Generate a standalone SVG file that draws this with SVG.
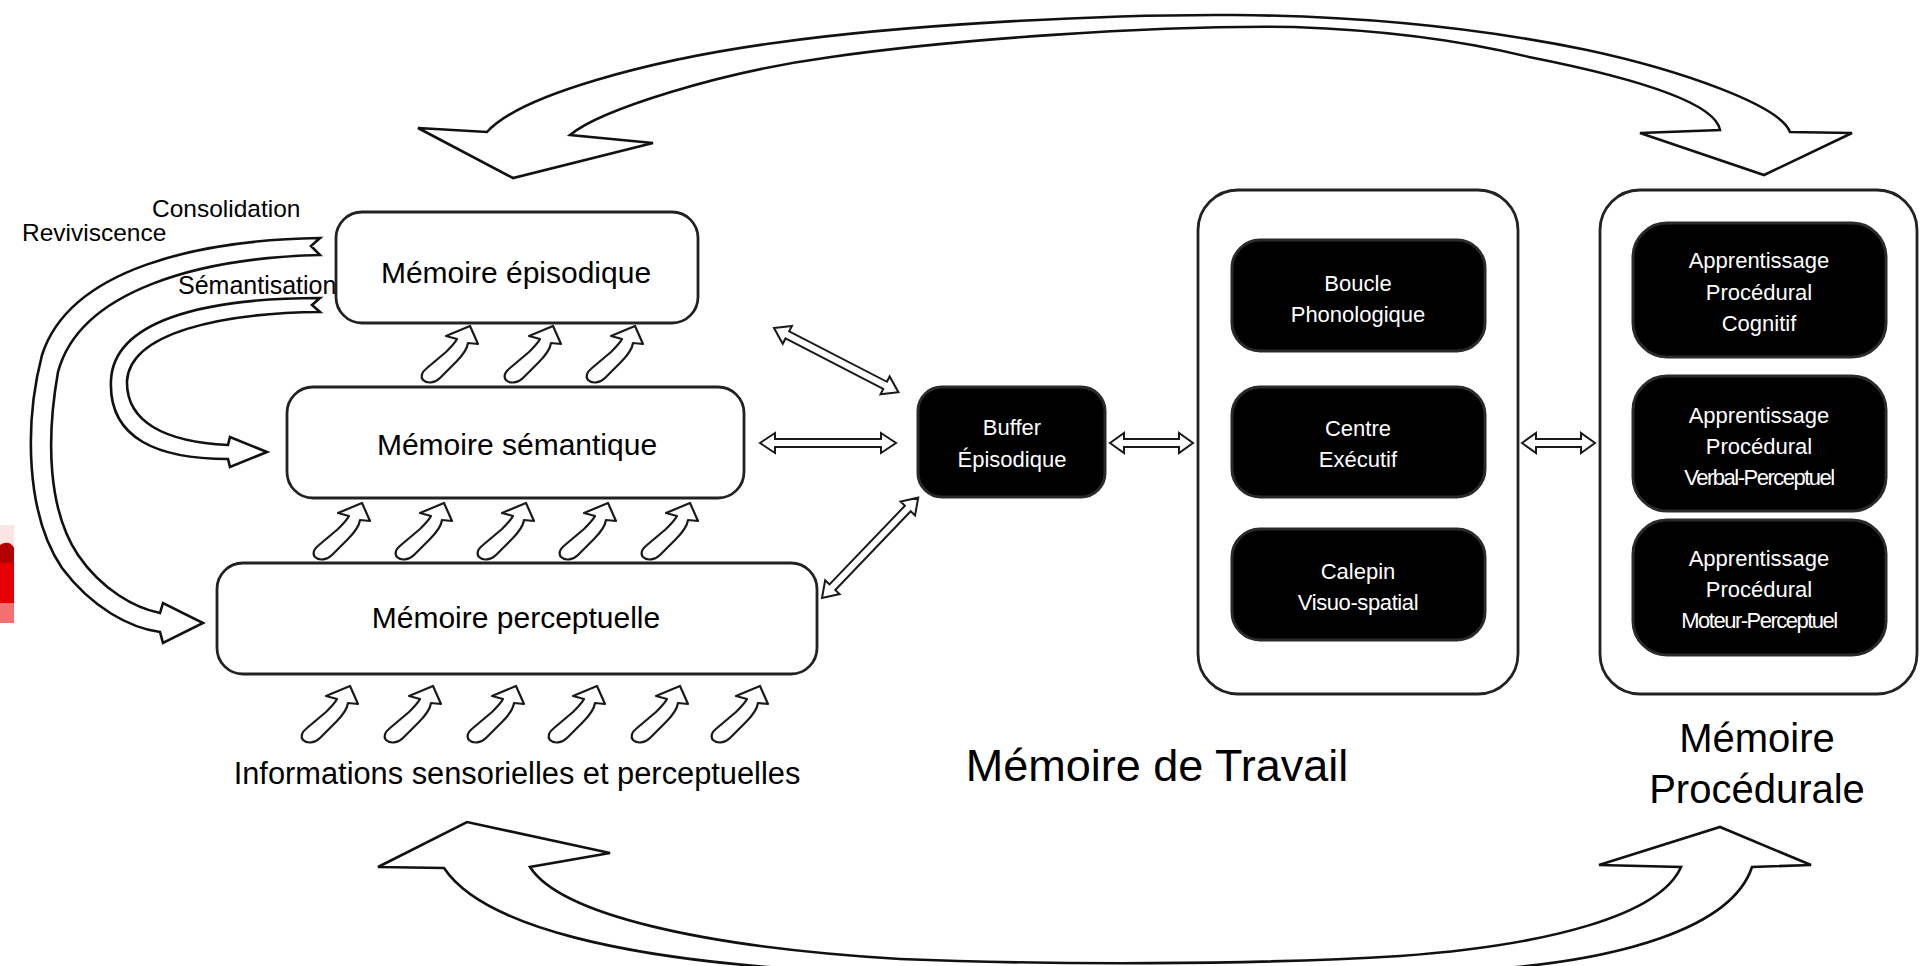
<svg xmlns="http://www.w3.org/2000/svg" width="1921" height="966" viewBox="0 0 1921 966">
<defs>
<style>
.band{fill:#fff;stroke:#111;stroke-width:2.6;stroke-linejoin:miter}
.sm{fill:#fff;stroke:#1a1a1a;stroke-width:2.2;stroke-linejoin:round}
.dbl{fill:#fff;stroke:#1a1a1a;stroke-width:2}
.wbox{fill:#fff;stroke:#222;stroke-width:2.8}
.bbox{fill:#000;stroke:#2a2a2a;stroke-width:3}
.obox{fill:#fff;stroke:#222;stroke-width:2.8}
.t{font-family:"Liberation Sans",Arial,sans-serif;fill:#000}
.w{font-family:"Liberation Sans",Arial,sans-serif;fill:#fff;font-size:22px;text-anchor:middle}
.m{text-anchor:middle}
</style>
<path id="sa" d="M26,10 L50,0 L58,18 L48,17 C47,24 42,30 36,36 L20,52 C15,57 7,58 3,54 C0,50 2,46 7,42 L26,26 C31,21 35,17 37,13 Z"/>
</defs>
<rect width="1921" height="966" fill="#fff"/>

<g id="red-fragment">
<rect x="0" y="525" width="14" height="98" fill="#fbe4e4"/>
<path d="M0,545 C6,541 12,543 14,548 L14,566 L0,566 Z" fill="#b30000"/>
<path d="M0,563 L14,563 L14,603 C8,606 3,605 0,603 Z" fill="#e80000"/>
<path d="M0,603 L14,603 L14,623 L0,623 Z" fill="#f27070"/>
</g>

<g id="connectors">
<!-- top big arrow -->
<path class="band" d="M487,132 C520,95 650,60 774,43 C900,25 1100,14 1235,15 C1360,16 1480,28 1587,50 C1680,70 1780,105 1790,132 L1852,133 L1764,175 L1640,133 L1720,130 C1715,100 1620,75 1529,57 C1460,40 1380,30 1294,27 C1150,25 950,40 831,57 C720,72 600,110 570,135 L653,143 L513,178 L418,128 Z"/>
<!-- bottom big arrow -->
<path class="band" d="M444,868 C482,925 620,962 850,972 C1050,980 1300,980 1480,970 C1620,961 1732,928 1752,867 L1811,865 L1720,827 L1599,865 L1681,867 C1660,915 1550,945 1400,956 C1250,965 1050,965 900,959 C700,947 560,914 530,867 L610,853 L467,822 L378,867 Z"/>
<!-- Reviviscence / Consolidation arrow -->
<path class="band" d="M320,238 C200,240 70,268 42,355 C24,425 26,515 62,568 C92,608 130,628 160,632 L163,643 L203,623 L163,603 L160,613 C135,608 102,590 78,555 C48,510 46,440 58,372 C80,290 200,258 320,255 L311,246 Z"/>
<!-- Sémantisation arrow -->
<path class="band" d="M320,298 C200,298 114,322 111,380 C108,440 160,459 228,459 L230,467 L267,452 L230,437 L228,445 C165,442 126,422 127,381 C130,333 220,313 320,312 L312,305 Z"/>

<!-- small upward arrows: episodic <- semantic -->
<use href="#sa" class="sm" x="420" y="326"/>
<use href="#sa" class="sm" x="503" y="326"/>
<use href="#sa" class="sm" x="585" y="326"/>
<!-- semantic <- perceptual -->
<use href="#sa" class="sm" x="312" y="503"/>
<use href="#sa" class="sm" x="394" y="503"/>
<use href="#sa" class="sm" x="476" y="503"/>
<use href="#sa" class="sm" x="558" y="503"/>
<use href="#sa" class="sm" x="640" y="503"/>
<!-- perceptual <- sensory -->
<use href="#sa" class="sm" x="300" y="686"/>
<use href="#sa" class="sm" x="383" y="686"/>
<use href="#sa" class="sm" x="466" y="686"/>
<use href="#sa" class="sm" x="547" y="686"/>
<use href="#sa" class="sm" x="630" y="686"/>
<use href="#sa" class="sm" x="710" y="686"/>

<!-- double-headed arrows -->
<path class="dbl" transform="translate(774,328) rotate(27.3)" d="M0,0 L15,-10 L15,-4 L125,-4 L125,-10 L140,0 L125,10 L125,4 L15,4 L15,10 Z"/>
<path class="dbl" transform="translate(760,443)" d="M0,0 L15,-10 L15,-4 L121,-4 L121,-10 L136,0 L121,10 L121,4 L15,4 L15,10 Z"/>
<path class="dbl" transform="translate(822,598) rotate(-46.2)" d="M0,0 L15,-10 L15,-4 L124,-4 L124,-10 L139,0 L124,10 L124,4 L15,4 L15,10 Z"/>
<path class="dbl" transform="translate(1110,443)" d="M0,0 L14,-10 L14,-4 L69,-4 L69,-10 L83,0 L69,10 L69,4 L14,4 L14,10 Z"/>
<path class="dbl" transform="translate(1522,443)" d="M0,0 L14,-10 L14,-4 L59,-4 L59,-10 L73,0 L59,10 L59,4 L14,4 L14,10 Z"/>
</g>

<g id="labels-left">
<text class="t" x="152" y="217" font-size="24.5">Consolidation</text>
<text class="t" x="22" y="241" font-size="24.5">Reviviscence</text>
<text class="t" x="178" y="294" font-size="25">Sémantisation</text>
</g>

<g id="episodic">
<rect class="wbox" x="336" y="212" width="362" height="111" rx="26"/>
<text class="t m" x="516" y="283" font-size="30">Mémoire épisodique</text>
</g>
<g id="semantic">
<rect class="wbox" x="287" y="387" width="457" height="111" rx="26"/>
<text class="t m" x="517" y="455" font-size="30">Mémoire sémantique</text>
</g>
<g id="perceptual">
<rect class="wbox" x="217" y="563" width="600" height="111" rx="26"/>
<text class="t m" x="516" y="628" font-size="30">Mémoire perceptuelle</text>
</g>
<g id="sensory-label">
<text class="t m" x="517" y="784" font-size="30.8">Informations sensorielles et perceptuelles</text>
</g>

<g id="buffer">
<rect class="bbox" x="918" y="387" width="187" height="110" rx="24"/>
<text class="w" x="1012" y="435" font-size="21">Buffer</text>
<text class="w" x="1012" y="467" font-size="21">Épisodique</text>
</g>

<g id="working-memory">
<rect class="obox" x="1198" y="190" width="320" height="504" rx="40"/>
<text class="t m" x="1157" y="781" font-size="45">Mémoire de Travail</text>
</g>
<g id="boucle">
<rect class="bbox" x="1232" y="240" width="253" height="111" rx="28"/>
<text class="w" x="1358" y="291">Boucle</text>
<text class="w" x="1358" y="322">Phonologique</text>
</g>
<g id="centre">
<rect class="bbox" x="1232" y="387" width="253" height="110" rx="28"/>
<text class="w" x="1358" y="436">Centre</text>
<text class="w" x="1358" y="467">Exécutif</text>
</g>
<g id="calepin">
<rect class="bbox" x="1232" y="529" width="253" height="111" rx="28"/>
<text class="w" x="1358" y="579">Calepin</text>
<text class="w" x="1358" y="610" letter-spacing="-0.4">Visuo-spatial</text>
</g>

<g id="procedural-memory">
<rect class="obox" x="1600" y="190" width="317" height="504" rx="40"/>
<text class="t m" x="1757" y="752" font-size="40">Mémoire</text>
<text class="t m" x="1757" y="803" font-size="40">Procédurale</text>
</g>
<g id="apc">
<rect class="bbox" x="1633" y="223" width="253" height="134" rx="34"/>
<text class="w" x="1759" y="268">Apprentissage</text>
<text class="w" x="1759" y="300">Procédural</text>
<text class="w" x="1759" y="331">Cognitif</text>
</g>
<g id="apvp">
<rect class="bbox" x="1633" y="376" width="253" height="135" rx="34"/>
<text class="w" x="1759" y="423">Apprentissage</text>
<text class="w" x="1759" y="454">Procédural</text>
<text class="w" x="1759" y="485" letter-spacing="-1.5">Verbal-Perceptuel</text>
</g>
<g id="apmp">
<rect class="bbox" x="1633" y="520" width="253" height="135" rx="34"/>
<text class="w" x="1759" y="566">Apprentissage</text>
<text class="w" x="1759" y="597">Procédural</text>
<text class="w" x="1759" y="628" letter-spacing="-1.5">Moteur-Perceptuel</text>
</g>
</svg>
